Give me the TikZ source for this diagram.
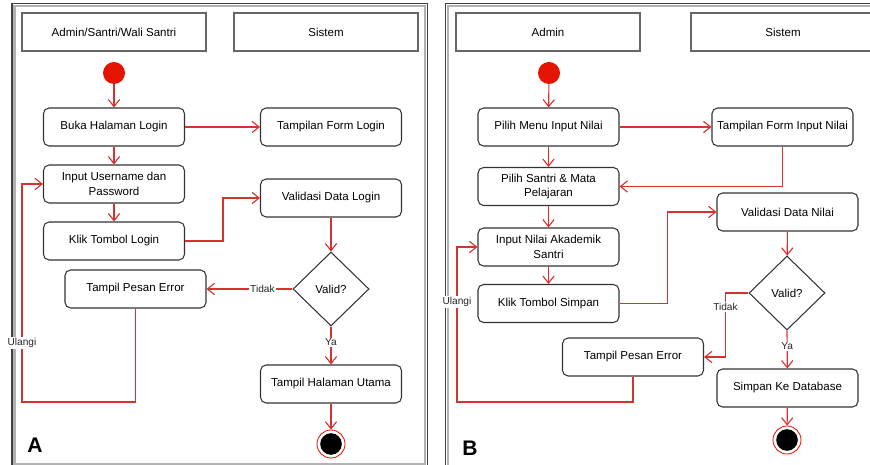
\documentclass[tikz,border=0pt]{standalone}
\usepackage{fontspec}
\setmainfont{Liberation Sans}
\usetikzlibrary{arrows.meta,shapes.geometric}
\definecolor{flowred}{RGB}{214,50,50}
\definecolor{startred}{RGB}{229,20,0}

\begin{document}
\begin{tikzpicture}[x=0.025cm, y=-0.025cm,
  font=\fontsize{8.2pt}{10.2pt}\selectfont,
  lane/.style={draw=black!60, line width=1pt, minimum width=4.6cm, minimum height=0.95cm},
  act/.style={draw=black!80, line width=0.75pt, rounded corners=4pt, fill=white,
    minimum width=3.525cm, minimum height=0.95cm, align=center},
  decide/.style={draw=black!80, line width=0.75pt, diamond, inner sep=0pt,
    minimum width=1.9cm, minimum height=1.85cm},
  initial/.style={circle, fill=startred, minimum size=0.55cm, inner sep=0pt},
  final/.style={circle, draw=startred, fill=white, line width=0.6pt, minimum size=0.7cm, inner sep=0pt,
    path picture={\fill[black] (path picture bounding box.center) circle (0.27cm);}},
  flow/.style={draw=flowred, line width=0.8pt, -{Straight Barb[length=5pt,width=8pt]}},
  lbl/.style={fill=white, inner sep=1pt, font=\fontsize{7.2pt}{8pt}\selectfont, text=black!85},
  tag/.style={font=\bfseries\fontsize{15pt}{15pt}\selectfont}
]
  \useasboundingbox (0,0) rectangle (870,465);
  \clip (0,0) rectangle (870,465);

  % panel frames
  \draw[black!75, line width=0.8pt] (12,3.5) rectangle (427.5,466);
  \draw[gray!60, line width=1.8pt] (14.5,6) rectangle (425,464);
  \draw[black!75, line width=0.8pt] (445.5,3.5) rectangle (880,470);
  \draw[gray!60, line width=1.8pt] (448,6) rectangle (880,470);

  % --- A: login ---
  \node[lane] (actorA) at (114,32) {Admin/Santri/Wali Santri};
  \node[lane] (sysA) at (326,32) {Sistem};

  \node[initial] (startA) at (114,73) {};
  \node[act] (bukaA) at (114,127) {Buka Halaman Login};
  \node[act] (formA) at (331,127) {Tampilan Form Login};
  \node[act] (inputA) at (114,184) {Input Username dan\\Password};
  \node[act] (klikA) at (114,241) {Klik Tombol Login};
  \node[act] (validasiA) at (331,198) {Validasi Data Login};
  \node[decide] (validA) at (331,289) {Valid?};
  \node[act] (errorA) at (135.5,289) {Tampil Pesan Error};
  \node[act] (utamaA) at (331,384) {Tampil Halaman Utama};
  \node[final] (endA) at (331,444) {};
  \coordinate (loopA) at (22,402);

  \draw[flow] (startA) -- (bukaA);
  \draw[flow] (bukaA) -- (formA);
  \draw[flow] (bukaA) -- (inputA);
  \draw[flow] (inputA) -- (klikA);
  \draw[flow] (klikA.east) -- ++(38,0) |- (validasiA.west);
  \draw[flow] (validasiA) -- (validA);
  \draw[flow] (validA.west) -- node[lbl, pos=0.35] {Tidak} (errorA.east);
  \draw[flow] (errorA.south) |- (loopA) -- node[lbl, pos=0.27] {Ulangi} (loopA |- inputA.west) -- (inputA.west);
  \draw[flow] (validA.south) -- node[lbl, pos=0.42] {Ya} (utamaA);
  \draw[flow] (utamaA) -- (endA);

  \node[tag] (tagA) at (35,445) {A};

  % --- B: input nilai ---
  \node[lane] (actorB) at (548,32) {Admin};
  \node[lane] (sysB) at (783,32) {Sistem};

  \node[initial] (startB) at (549,73) {};
  \node[act] (menuB) at (548.5,127) {Pilih Menu Input Nilai};
  \node[act] (formB) at (782.5,127) {Tampilan Form Input Nilai};
  \node[act] (santriB) at (548.5,186.5) {Pilih Santri \& Mata\\Pelajaran};
  \node[act] (nilaiB) at (548.5,247) {Input Nilai Akademik\\Santri};
  \node[act] (simpanB) at (548.5,303.5) {Klik Tombol Simpan};
  \node[act] (validasiB) at (787.5,212) {Validasi Data Nilai};
  \node[decide] (validB) at (787,293) {Valid?};
  \node[act] (errorB) at (633,357) {Tampil Pesan Error};
  \node[act] (dbB) at (787.5,388) {Simpan Ke Database};
  \node[final] (endB) at (787,440) {};
  \coordinate (loopB) at (457,402);

  \draw[flow] (startB) -- (menuB);
  \draw[flow] (menuB) -- (formB);
  \draw[flow] (menuB) -- (santriB);
  \draw[flow] (formB.south) |- (santriB.east);
  \draw[flow] (santriB) -- (nilaiB);
  \draw[flow] (nilaiB) -- (simpanB);
  \draw[flow] (simpanB.east) -- ++(48,0) |- (validasiB.west);
  \draw[flow] (validasiB) -- (validB);
  \draw[flow] (validB.west) -- ++(-23,0) coordinate (tidakB)
    -- node[lbl, pos=0.22] {Tidak} (tidakB |- errorB.east) -- (errorB.east);
  \draw[flow] (errorB.south) |- (loopB) -- node[lbl, pos=0.645] {Ulangi} (loopB |- nilaiB.west) -- (nilaiB.west);
  \draw[flow] (validB.south) -- node[lbl, pos=0.42] {Ya} (dbB);
  \draw[flow] (dbB) -- (endB);

  \node[tag] (tagB) at (470,448) {B};
\end{tikzpicture}
\end{document}
